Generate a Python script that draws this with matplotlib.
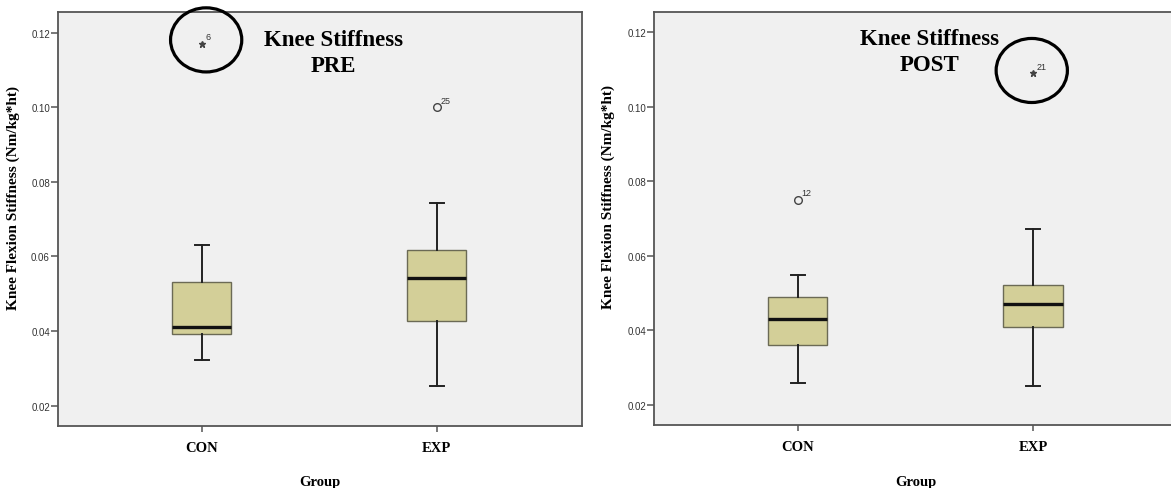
import matplotlib
matplotlib.use('Agg')
import matplotlib.pyplot as plt
from matplotlib.patches import Ellipse
from matplotlib.ticker import FormatStrFormatter

# box summary values
groups = ['CON', 'EXP']
pre_whislo = [0.0321, 0.0252]
pre_q1 = [0.0392, 0.0426]
pre_med = [0.0412, 0.0542]
pre_q3 = [0.0532, 0.0618]
pre_whishi = [0.0632, 0.0743]

post_whislo = [0.0260, 0.0251]
post_q1 = [0.0362, 0.0410]
post_med = [0.0431, 0.0471]
post_q3 = [0.0491, 0.0521]
post_whishi = [0.0550, 0.0671]

# outliers: (group index, value, case label, kind) - 'o' outlier, '*' extreme
pre_outliers = [(0, 0.1171, '6', '*'), (1, 0.1000, '25', 'o')]
post_outliers = [(0, 0.0751, '12', 'o'), (1, 0.1090, '21', '*')]

# hand drawn ring around the extreme case (centre in data units)
pre_ring = (1.019, 0.1181)
post_ring = (1.995, 0.1098)

yticks = [0.02, 0.04, 0.06, 0.08, 0.10, 0.12]

serif = 'Liberation Serif'
sans = 'Liberation Sans'
box_col = '#d3cf98'
bg_col = '#f0f0f0'
spine_col = '#555555'


def draw_panel(ax, lo, q1, med, q3, hi, outliers, ring_xy, subtitle):
    stats = []
    for i in range(len(groups)):
        stats.append({'whislo': lo[i], 'q1': q1[i], 'med': med[i],
                      'q3': q3[i], 'whishi': hi[i], 'fliers': []})
    ax.bxp(stats, positions=[1, 2], widths=0.252, capwidths=0.06,
           showfliers=False, patch_artist=True,
           boxprops=dict(facecolor=box_col, edgecolor='#6b6a55', linewidth=1.0),
           medianprops=dict(color='#111111', linewidth=2.4, solid_capstyle='butt'),
           whiskerprops=dict(color='#222222', linewidth=1.4),
           capprops=dict(color='#222222', linewidth=1.4))

    for gi, val, lab, kind in outliers:
        if kind == '*':
            ax.plot(gi + 1, val, marker='*', ms=4.5, color='#444444', mec='#444444',
                    linestyle='none')
        else:
            ax.plot(gi + 1, val, marker='o', ms=5.5, mfc='none', mec='#444444',
                    mew=1.0, linestyle='none')
        ax.annotate(lab, (gi + 1, val), xytext=(2.5, 2), textcoords='offset points',
                    ha='left', va='bottom', fontsize=6.5, family=sans, color='#333333')

    ring = Ellipse(ring_xy, 0.303, 0.0172, fill=False,
                   edgecolor='black', linewidth=2.3, clip_on=False, zorder=5)
    ax.add_patch(ring)

    ax.text(1.56, 0.1183, 'Knee Stiffness', ha='center', va='center',
            family=serif, fontweight='bold', fontsize=16.5)
    ax.text(1.56, 0.1113, subtitle, ha='center', va='center',
            family=serif, fontweight='bold', fontsize=16.5)

    ax.set_xlim(0.39, 2.617)
    ax.set_ylim(0.0146, 0.1255)
    ax.set_facecolor(bg_col)
    for s in ax.spines.values():
        s.set_color(spine_col)
        s.set_linewidth(1.3)

    ax.set_yticks(yticks)
    ax.yaxis.set_major_formatter(FormatStrFormatter('%.2f'))
    ax.tick_params(axis='y', direction='out', length=5, width=1.1, color=spine_col,
                   labelsize=7, labelcolor='#333333', pad=1)
    for t in ax.get_yticklabels():
        t.set_family(sans)

    ax.set_xticks([1, 2])
    ax.set_xticklabels(groups, family=serif, fontweight='bold', fontsize=10.5)
    ax.tick_params(axis='x', direction='out', length=4, width=1.1, color=spine_col,
                   pad=7)

    ax.set_xlabel('Group', family=serif, fontweight='bold', fontsize=10.5)
    ax.xaxis.set_label_coords(0.5, -0.12)
    ax.set_ylabel('Knee Flexion Stiffness (Nm/kg*ht)', family=serif,
                  fontweight='bold', fontsize=11)


fig = plt.figure(figsize=(11.71, 4.89), dpi=100)
ax1 = fig.add_axes([0.0498, 0.1274, 0.447, 0.8454])
ax2 = fig.add_axes([0.5588, 0.1288, 0.4472, 0.8446])

draw_panel(ax1, pre_whislo, pre_q1, pre_med, pre_q3, pre_whishi,
           pre_outliers, pre_ring, 'PRE')
draw_panel(ax2, post_whislo, post_q1, post_med, post_q3, post_whishi,
           post_outliers, post_ring, 'POST')

ax1.yaxis.set_label_coords(-0.074, 0.554)
ax2.yaxis.set_label_coords(-0.075, 0.554)

fig.savefig('out.png', dpi=100)
